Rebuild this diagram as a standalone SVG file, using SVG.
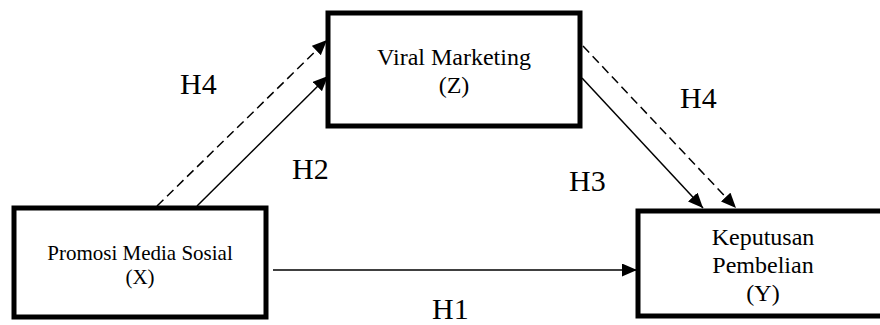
<svg xmlns="http://www.w3.org/2000/svg" width="880" height="325" viewBox="0 0 880 325">
  <defs>
    <marker id="arrow" markerUnits="userSpaceOnUse" markerWidth="16" markerHeight="14" refX="15" refY="6.5" orient="auto">
      <path d="M0,0 L15,6.5 L0,13 z" fill="#000"/>
    </marker>
    <style>
      .box { fill: #fff; stroke: #000; stroke-width: 5; }
      .label { font-family: "Liberation Serif", "Times New Roman", serif; fill: #000; text-anchor: middle; }
      .hyp { font-family: "Liberation Serif", "Times New Roman", serif; fill: #000; font-size: 30px; }
      .link { stroke: #000; stroke-width: 1.5; fill: none; marker-end: url(#arrow); }
      .dashed { stroke-dasharray: 9 5; }
    </style>
  </defs>
  <rect width="880" height="325" fill="#fff"/>

  <!-- connectors -->
  <g id="connectors">
    <line class="link dashed" x1="157" y1="206" x2="327" y2="40"/>
    <line class="link" x1="197" y1="206" x2="328" y2="76"/>
    <line class="link" x1="582" y1="78" x2="703" y2="208"/>
    <line class="link dashed" x1="583" y1="46" x2="736" y2="208"/>
    <line class="link" x1="273" y1="270" x2="637" y2="270"/>
  </g>

  <!-- hypothesis labels -->
  <g id="hypotheses">
    <text class="hyp" x="180" y="94">H4</text>
    <text class="hyp" x="292" y="179">H2</text>
    <text class="hyp" x="680" y="108">H4</text>
    <text class="hyp" x="569" y="191">H3</text>
    <text class="hyp" x="432" y="319">H1</text>
  </g>

  <g id="node-x">
    <rect class="box" x="14" y="208" width="252" height="109"/>
    <text class="label" x="140" y="260" font-size="21">Promosi Media Sosial</text>
    <text class="label" x="140" y="284" font-size="21">(X)</text>
  </g>

  <g id="node-z">
    <rect class="box" x="328" y="13" width="252" height="113"/>
    <text class="label" x="454" y="65" font-size="24">Viral Marketing</text>
    <text class="label" x="454" y="93" font-size="24">(Z)</text>
  </g>

  <g id="node-y">
    <rect class="box" x="638" y="211" width="250" height="105"/>
    <text class="label" x="763" y="245" font-size="24">Keputusan</text>
    <text class="label" x="763" y="273" font-size="24">Pembelian</text>
    <text class="label" x="763" y="301" font-size="24">(Y)</text>
  </g>
</svg>
